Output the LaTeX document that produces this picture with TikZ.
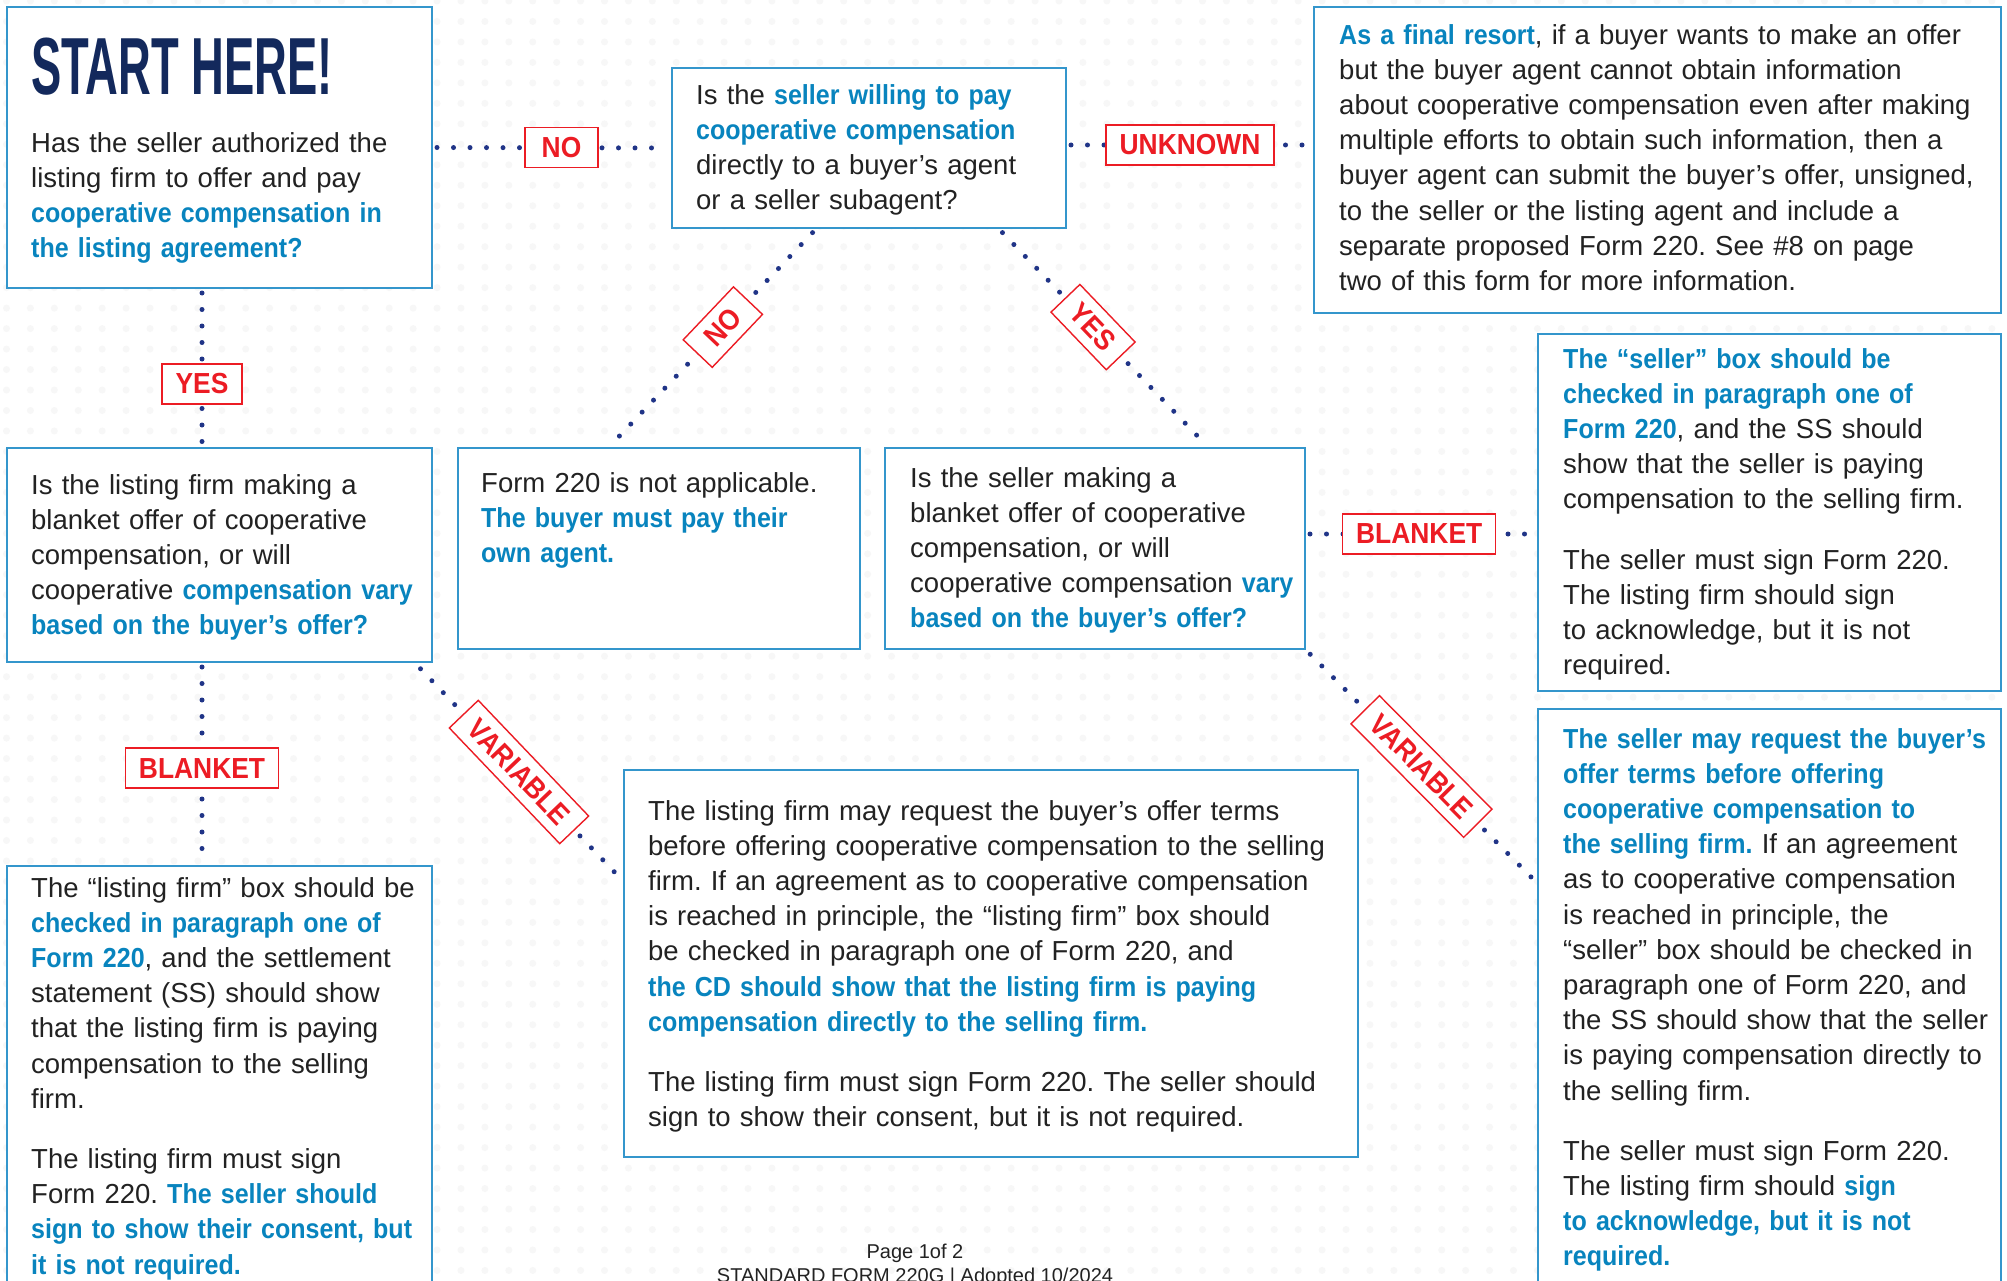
\documentclass[tikz,border=0pt]{standalone}
\usepackage{fontspec}
\setmainfont{Liberation Sans}
\newfontfamily\hbfam{Liberation Sans}[FakeStretch=0.91]
\newfontfamily\labfam{Liberation Sans}[FakeStretch=0.91]
\newfontfamily\titlefam{Liberation Sans}[FakeStretch=0.56]
\definecolor{boxblue}{RGB}{52,150,204}
\definecolor{hlblue}{RGB}{8,132,190}
\definecolor{navy}{RGB}{19,41,92}
\definecolor{dotnavy}{RGB}{32,52,135}
\definecolor{labred}{RGB}{236,28,36}
\definecolor{bodyk}{RGB}{34,34,34}
\definecolor{griddot}{RGB}{247,247,247}
\newcommand{\hlt}[1]{{\hbfam\bfseries\color{hlblue}#1}}
\frenchspacing
\tikzset{
  box/.style={anchor=north west, draw=boxblue, line width=2pt, fill=white, inner sep=0pt},
  txt/.style={anchor=north west, inner sep=0pt, text width=1000pt, align=left, text=bodyk,
    font=\frenchspacing\fontsize{27.5}{35.2}\selectfont},
  lab/.style={draw=labred, solid, line cap=butt, line width=1.4pt, fill=white, text=labred, inner xsep=13.5pt,
    minimum height=40pt, inner ysep=0pt, font=\labfam\bfseries\fontsize{29}{29}\selectfont},
  short/.style={minimum width=73pt},
  dotline/.style={draw=dotnavy, line width=5pt, line cap=round, dash pattern=on 0pt off 16.5pt},
  gridrow/.style={draw=griddot, line width=7pt, line cap=round, dash pattern=on 0pt off 23.92pt},
  foot/.style={inner sep=0pt, text=bodyk, font=\fontsize{20}{24}\selectfont}
}
\begin{document}
\begin{tikzpicture}[x=1pt,y=-1pt]
\useasboundingbox (0,0) rectangle (2007,1281);
\clip (0,0) rectangle (2007,1281);
\fill[white] (0,0) rectangle (2007,1281);
% faint background dot grid
\foreach \j in {0,...,62} { \draw[gridrow] (6.5, 1+20.475*\j) -- (2015, 1+20.475*\j); }

% boxes
\node[box, minimum width=425pt, minimum height=281pt] (A) at (6,6) {};
\node[box, minimum width=394pt, minimum height=160pt] (B) at (671,67) {};
\node[box, minimum width=687pt, minimum height=306pt] (C) at (1313,6) {};
\node[box, minimum width=425pt, minimum height=214pt] (D) at (6,447) {};
\node[box, minimum width=402pt, minimum height=201pt] (E) at (457,447) {};
\node[box, minimum width=420pt, minimum height=201pt] (F) at (884,447) {};
\node[box, minimum width=463pt, minimum height=357pt] (G) at (1537,333) {};
\node[box, minimum width=425pt, minimum height=440pt] (H) at (6,865) {};
\node[box, minimum width=734pt, minimum height=387pt] (I) at (623,769) {};
\node[box, minimum width=463pt, minimum height=600pt] (J) at (1537,708) {};

% connectors with labels
\draw[dotline, shorten <=4pt, shorten >=4pt] (A.east) -- node[lab, short, pos=0.54] (noA) {NO} (B.west);
\draw[dotline, shorten <=4pt, shorten >=4pt] ([yshift=3pt]B.east) -- node[lab, pos=0.5] (unk) {UNKNOWN} ([yshift=3pt]B.east -| C.west);
\draw[dotline, shorten <=4pt, shorten >=4pt] ([xshift=-17.5pt]A.south) -- node[lab, short, pos=0.6] (yesA) {YES} ([xshift=-17.5pt]D.north);
\draw[dotline, shorten <=4pt, shorten >=4pt] ([xshift=-17.5pt]D.south) -- node[lab, pos=0.52] (blA) {BLANKET} ([xshift=-17.5pt]H.north);
\draw[dotline, shorten <=4pt, shorten >=4pt] ([yshift=14.5pt]F.east) -- node[lab, pos=0.49] (blB) {BLANKET} ([yshift=14.5pt]F.east -| G.west);
\draw[dotline, shorten <=5pt, shorten >=5pt] ([xshift=-53pt]B.south) -- node[lab, short, sloped, pos=0.45] (noB) {NO} ([xshift=-50pt]E.north);
\draw[dotline, shorten <=5pt, shorten >=5pt] ([xshift=130pt]B.south) -- node[lab, short, sloped, pos=0.45] (yesB) {YES} ([xshift=113pt]F.north);
\draw[dotline, shorten <=8pt, shorten >=3pt] ([xshift=-18pt]D.south east) -- node[lab, sloped, pos=0.5] (varA) {VARIABLE} ([yshift=-112pt]I.north west);
\draw[dotline, shorten <=6pt, shorten >=3pt] (F.south east) -- node[lab, sloped, pos=0.5] (varB) {VARIABLE} ([yshift=-175pt]J.north west);

% texts
\node[anchor=north west, inner sep=0pt, text=navy, font=\titlefam\bfseries\fontsize{81}{81}\selectfont] (At) at (31,38) {START HERE!};
\node[txt] (Ab) at (31,132) {Has the seller authorized the\\
listing firm to offer and pay\\
\hlt{cooperative compensation in\\
the listing agreement?}};

\node[txt] (Bt) at (696,84) {Is the \hlt{seller willing to pay\\
cooperative compensation}\\
directly to a buyer’s agent\\
or a seller subagent?};

\node[txt] (Ct) at (1339,24) {\hlt{As a final resort}, if a buyer wants to make an offer\\
but the buyer agent cannot obtain information\\
about cooperative compensation even after making\\
multiple efforts to obtain such information, then a\\
buyer agent can submit the buyer’s offer, unsigned,\\
to the seller or the listing agent and include a\\
separate proposed Form 220. See \#8 on page\\
two of this form for more information.};

\node[txt] (Dt) at (31,474) {Is the listing firm making a\\
blanket offer of cooperative\\
compensation, or will\\
cooperative \hlt{compensation vary\\
based on the buyer’s offer?}};

\node[txt] (Et) at (481,472) {Form 220 is not applicable.\\
\hlt{The buyer must pay their\\
own agent.}};

\node[txt] (Ft) at (910,467) {Is the seller making a\\
blanket offer of cooperative\\
compensation, or will\\
cooperative compensation \hlt{vary\\
based on the buyer’s offer?}};

\node[txt] (Gt) at (1563,348) {\hlt{The “seller” box should be\\
checked in paragraph one of\\
Form 220}, and the SS should\\
show that the seller is paying\\
compensation to the selling firm.\\[25pt]
The seller must sign Form 220.\\
The listing firm should sign\\
to acknowledge, but it is not\\
required.};

\node[txt] (Ht) at (31,877) {The “listing firm” box should be\\
\hlt{checked in paragraph one of\\
Form 220}, and the settlement\\
statement (SS) should show\\
that the listing firm is paying\\
compensation to the selling\\
firm.\\[25pt]
The listing firm must sign\\
Form 220. \hlt{The seller should\\
sign to show their consent, but\\
it is not required.}};

\node[txt] (It) at (648,800) {The listing firm may request the buyer’s offer terms\\
before offering cooperative compensation to the selling\\
firm. If an agreement as to cooperative compensation\\
is reached in principle, the “listing firm” box should\\
be checked in paragraph one of Form 220, and\\
\hlt{the CD should show that the listing firm is paying\\
compensation directly to the selling firm.}\\[25pt]
The listing firm must sign Form 220. The seller should\\
sign to show their consent, but it is not required.};

\node[txt] (Jt) at (1563,728) {\hlt{The seller may request the buyer’s\\
offer terms before offering\\
cooperative compensation to\\
the selling firm.} If an agreement\\
as to cooperative compensation\\
is reached in principle, the\\
“seller” box should be checked in\\
paragraph one of Form 220, and\\
the SS should show that the seller\\
is paying compensation directly to\\
the selling firm.\\[25pt]
The seller must sign Form 220.\\
The listing firm should \hlt{sign\\
to acknowledge, but it is not\\
required.}};

\node[foot] (f1) at (915,1253) {Page 1of 2};
\node[foot] (f2) at (915,1277) {STANDARD FORM 220G | Adopted 10/2024};
\end{tikzpicture}
\end{document}
